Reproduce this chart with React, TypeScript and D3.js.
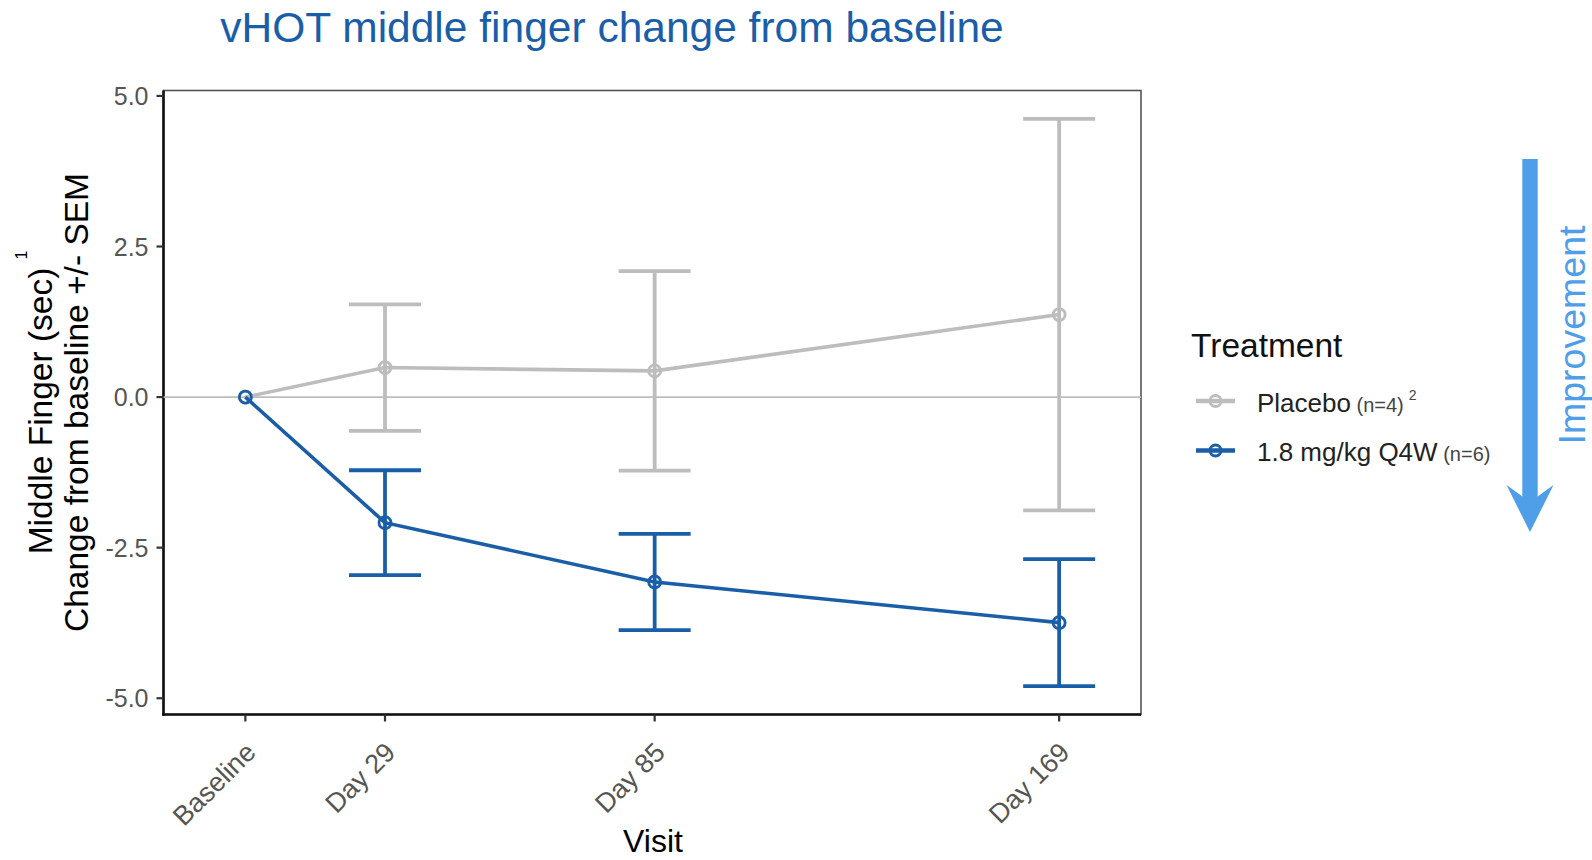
import React from "react";
import * as d3 from "d3";

// Visits and mean change from baseline (seconds) with SEM
const visits = ["Baseline", "Day 29", "Day 85", "Day 169"];
const visitDays = [0, 29, 85, 169];
const placeboMean = [0, 0.49, 0.435, 1.37];
const placeboSem = [0, 1.05, 1.655, 3.25];
const drugMean = [0, -2.085, -3.07, -3.745];
const drugSem = [0, 0.87, 0.8, 1.055];
const yTicks = [-5, -2.5, 0, 2.5, 5];

const W = 1592;
const H = 860;
const FONT = "'Liberation Sans', Arial, Helvetica, sans-serif";
const GREY = "#bdbdbd";
const BLUE = "#1b5ea8";
const ARROW = "#4f9ee8";

const panel = { left: 163.5, right: 1141, top: 90.5, bottom: 714.5 };

const x = d3.scaleLinear().domain([-17, 186]).range([panel.left, panel.right]);
const y = d3.scaleLinear().domain([-5.27, 5.09]).range([panel.bottom, panel.top]);

// tick labels use a plain hyphen for negatives
const fmtTick = (t: number) => d3.format(".1f")(t).replace("\u2212", "-");

type Pt = { day: number; mean: number; sem: number };

const toPoints = (means: number[], sems: number[]): Pt[] =>
  visitDays.map((d, i) => ({ day: d, mean: means[i], sem: sems[i] }));

const series = [
  { name: "Placebo", color: GREY, pts: toPoints(placeboMean, placeboSem) },
  { name: "1.8 mg/kg Q4W", color: BLUE, pts: toPoints(drugMean, drugSem) },
];

const line = d3
  .line<Pt>()
  .x((p) => x(p.day))
  .y((p) => y(p.mean));

const CAP = 36;

function Series({ color, pts }: { color: string; pts: Pt[] }) {
  return (
    <g>
      {pts
        .filter((p) => p.sem > 0)
        .map((p, i) => {
          const cx = x(p.day);
          const y1 = y(p.mean + p.sem);
          const y2 = y(p.mean - p.sem);
          return (
            <g key={i} stroke={color} strokeWidth={3.8} fill="none">
              <line x1={cx} x2={cx} y1={y1} y2={y2} />
              <line x1={cx - CAP} x2={cx + CAP} y1={y1} y2={y1} />
              <line x1={cx - CAP} x2={cx + CAP} y1={y2} y2={y2} />
            </g>
          );
        })}
      <path d={line(pts) ?? ""} fill="none" stroke={color} strokeWidth={3.6} />
      {pts.map((p, i) => (
        <circle
          key={i}
          cx={x(p.day)}
          cy={y(p.mean)}
          r={6}
          fill="none"
          stroke={color}
          strokeWidth={2.8}
        />
      ))}
    </g>
  );
}

export default function App() {
  const yMid = (panel.top + panel.bottom) / 2;
  const arrowX = 1530;
  const arrowTop = 159;
  const tipY = 532;
  return (
    <svg
      width={W}
      height={H}
      viewBox={`0 0 ${W} ${H}`}
      style={{ position: "absolute", left: 0, top: 0, background: "#fff" }}
      fontFamily={FONT}
    >
      <rect width={W} height={H} fill="#fff" />

      {/* Title */}
      <text x={612} y={42} textAnchor="middle" fontSize={42.5} fill={BLUE}>
        vHOT middle finger change from baseline
      </text>

      {/* Panel frame */}
      <rect
        x={panel.left}
        y={panel.top}
        width={panel.right - panel.left}
        height={panel.bottom - panel.top}
        fill="none"
        stroke="#555"
        strokeWidth={1.6}
      />
      <line x1={panel.left} x2={panel.left} y1={panel.top} y2={panel.bottom + 1.2} stroke="#111" strokeWidth={2.6} />
      <line x1={panel.left - 1.2} x2={panel.right} y1={panel.bottom} y2={panel.bottom} stroke="#111" strokeWidth={2.6} />

      {/* Zero reference */}
      <line x1={panel.left} x2={panel.right} y1={y(0)} y2={y(0)} stroke={GREY} strokeWidth={1.8} />

      {/* Y axis */}
      {yTicks.map((t) => (
        <g key={t}>
          <line x1={panel.left - 7} x2={panel.left} y1={y(t)} y2={y(t)} stroke="#333" strokeWidth={2.2} />
          <text
            x={148.5}
            y={y(t)}
            dy="0.36em"
            textAnchor="end"
            fontSize={25}
            fill="#555"
          >
            {fmtTick(t)}
          </text>
        </g>
      ))}

      {/* X axis */}
      {visits.map((v, i) => {
        const tx = x(visitDays[i]);
        return (
          <g key={v}>
            <line x1={tx} x2={tx} y1={panel.bottom} y2={panel.bottom + 7} stroke="#333" strokeWidth={2.2} />
            <text
              transform={`translate(${tx + 12},${754}) rotate(-45)`}
              textAnchor="end"
              fontSize={27}
              fill="#555"
            >
              {v}
            </text>
          </g>
        );
      })}
      <text x={653} y={852} textAnchor="middle" fontSize={32} fill="#000">
        Visit
      </text>

      {/* Y axis title */}
      <g transform={`translate(52,${yMid}) rotate(-90)`}>
        <text x={0} y={0} textAnchor="middle" fontSize={33.5} fill="#000">
          Middle Finger (sec)
          <tspan dx={8} dy={-25} fontSize={16}>
            1
          </tspan>
        </text>
      </g>
      <g transform={`translate(88,${yMid}) rotate(-90)`}>
        <text x={0} y={0} textAnchor="middle" fontSize={33.5} fill="#000">
          Change from baseline +/- SEM
        </text>
      </g>

      {/* Series */}
      {series.map((s) => (
        <Series key={s.name} color={s.color} pts={s.pts} />
      ))}

      {/* Legend */}
      <text x={1191} y={357} fontSize={33.5} fill="#111">
        Treatment
      </text>
      {series.map((s, i) => {
        const ly = 401 + i * 49.5;
        return (
          <g key={s.name}>
            <line x1={1196} x2={1235} y1={ly} y2={ly} stroke={s.color} strokeWidth={4.5} />
            <circle cx={1215.5} cy={ly} r={5.5} fill="none" stroke={s.color} strokeWidth={2.8} />
            <text x={1257} y={ly + 10.5} fontSize={26} fill="#222">
              {s.name}
              <tspan fontSize={20} fill="#444">
                {i === 0 ? " (n=4)" : " (n=6)"}
              </tspan>
              {i === 0 ? (
                <tspan fontSize={14} fill="#444" dx={5} dy={-12}>
                  2
                </tspan>
              ) : null}
            </text>
          </g>
        );
      })}

      {/* Improvement arrow */}
      <rect x={arrowX - 7.7} y={arrowTop} width={15.4} height={tipY - arrowTop - 30} fill={ARROW} />
      <path
        d={`M${arrowX},${tipY} L${arrowX - 23.5},${tipY - 47} L${arrowX},${tipY - 30} L${arrowX + 23.5},${tipY - 47} Z`}
        fill={ARROW}
      />
      <g transform={`translate(1585,335) rotate(-90)`}>
        <text x={0} y={0} textAnchor="middle" fontSize={37.5} fill={ARROW}>
          Improvement
        </text>
      </g>
    </svg>
  );
}
